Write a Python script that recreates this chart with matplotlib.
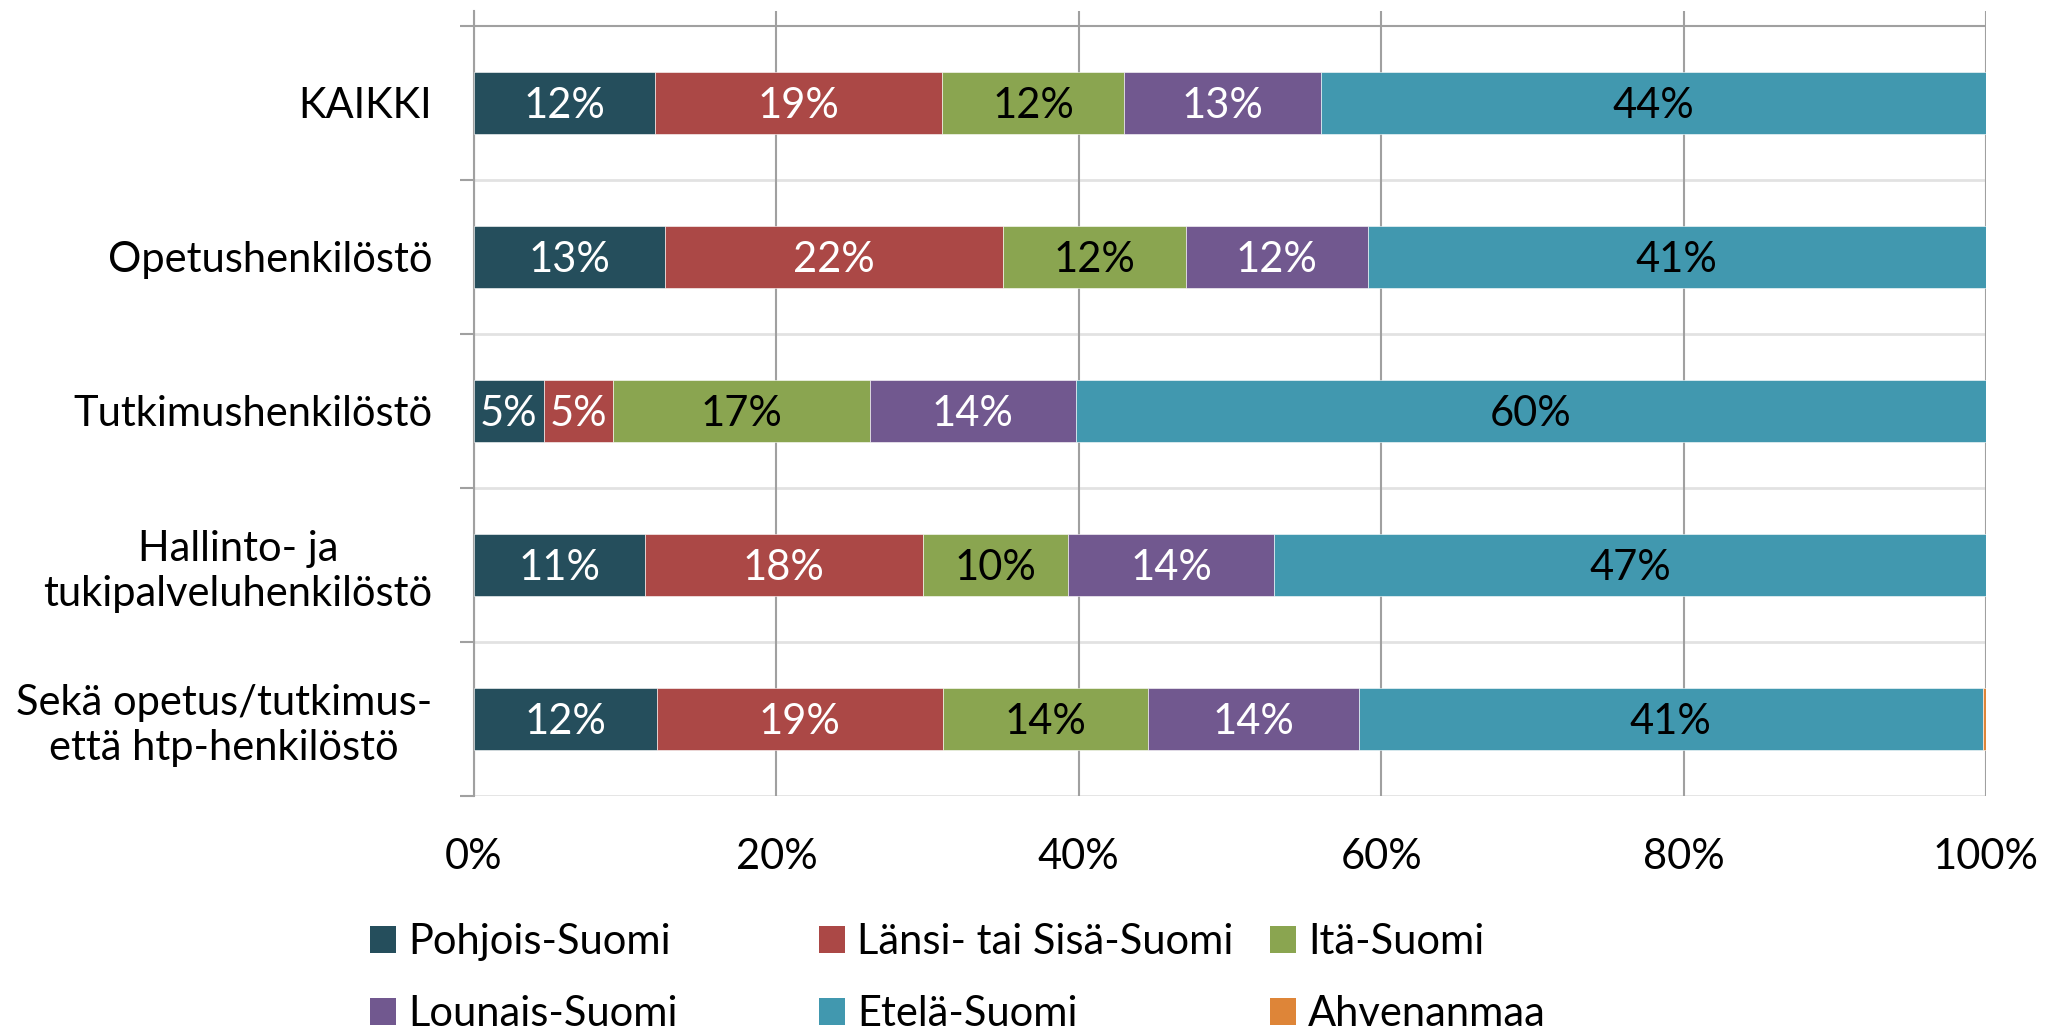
#!/usr/bin/env python3
import numpy as np
import matplotlib
matplotlib.use('Agg')
import matplotlib.pyplot as plt
from matplotlib.patches import Patch

plt.rcParams['font.family'] = ['Lato', 'DejaVu Sans']

# staff groups (top to bottom)
groups = ['KAIKKI', 'Opetushenkilöstö', 'Tutkimushenkilöstö',
          'Hallinto- ja\ntukipalveluhenkilöstö',
          'Sekä opetus/tutkimus-\nettä htp-henkilöstö']
regions = ['Pohjois-Suomi', 'Länsi- tai Sisä-Suomi', 'Itä-Suomi',
           'Lounais-Suomi', 'Etelä-Suomi', 'Ahvenanmaa']
# shares in percent, one list per region, in group order
pohjois = [11.96, 12.6, 4.6, 11.3, 12.1]
lansi = [19.02, 22.4, 4.6, 18.4, 18.9]
ita = [12.04, 12.1, 17.0, 9.6, 13.6]
lounais = [12.99, 12.0, 13.6, 13.6, 13.9]
etela = [43.99, 40.9, 60.2, 47.1, 41.3]
ahvenanmaa = [0.0, 0.0, 0.0, 0.0, 0.2]
xticks = [0, 20, 40, 60, 80, 100]

series = [pohjois, lansi, ita, lounais, etela, ahvenanmaa]
colors = ['#254E5C', '#AB4846', '#8AA550', '#71588F', '#4198AF', '#DE8538']
label_colors = ['white', 'white', 'black', 'white', 'black', 'black']

fig = plt.figure(figsize=(20.46, 10.32), dpi=100)
ax = fig.add_axes([474/2046, 1 - 796/1032, 1512/2046, 785/1032])

fs = 30
y = np.arange(len(groups))
left = np.zeros(len(groups))
for vals, col, lcol in zip(series, colors, label_colors):
    vals = np.array(vals)
    ax.barh(y, vals, left=left, height=0.4, color=col,
            edgecolor='white', linewidth=0.4, zorder=3)
    for yi, l, v in zip(y, left, vals):
        if v >= 0.5:
            ax.text(l + v/2, yi + 0.02, '%d%%' % int(v + 0.5), ha='center',
                    va='center', color=lcol, fontsize=fs, zorder=4)
    left += vals

ax.set_xlim(0, 100)
ax.set_ylim(4.5, -0.597)
ax.set_xticks(xticks)
ax.set_xticklabels(['%d%%' % t for t in xticks])
ax.set_yticks(y)
ax.set_yticklabels(groups, multialignment='center')
ax.set_yticks(np.arange(-0.5, 4.6, 1), minor=True)
ax.tick_params(axis='x', length=0, pad=30, labelsize=fs)
ax.tick_params(axis='y', which='major', length=0, pad=30, labelsize=fs)
ax.tick_params(axis='y', which='minor', length=10, width=1.5, color='#A0A0A0')

ax.grid(axis='x', color='#A0A0A0', linewidth=1.5, zorder=0)
for b in np.arange(0.5, 4.6, 1):
    ax.axhline(b, color='#E2E2E2', linewidth=2, zorder=1)
ax.axhline(-0.5, color='#A0A0A0', linewidth=1.5, zorder=1)
for s in ['top', 'right', 'bottom']:
    ax.spines[s].set_visible(False)
ax.spines['left'].set_color('#A0A0A0')
ax.spines['left'].set_linewidth(1.5)

# legend: three columns placed like the original
handles = [Patch(facecolor=c, label=r) for c, r in zip(colors, regions)]
col_x = [349/2046, 798/2046, 1249/2046]
for i, cx in enumerate(col_x):
    fig.legend(handles=[handles[i], handles[i + 3]], loc='upper left',
               bbox_to_anchor=(cx, 1 - 902/1032), frameon=False, fontsize=fs,
               handlelength=0.62, handleheight=0.62, handletextpad=0.3,
               labelspacing=0.83, borderpad=0)

fig.savefig('out.png', dpi=100)
